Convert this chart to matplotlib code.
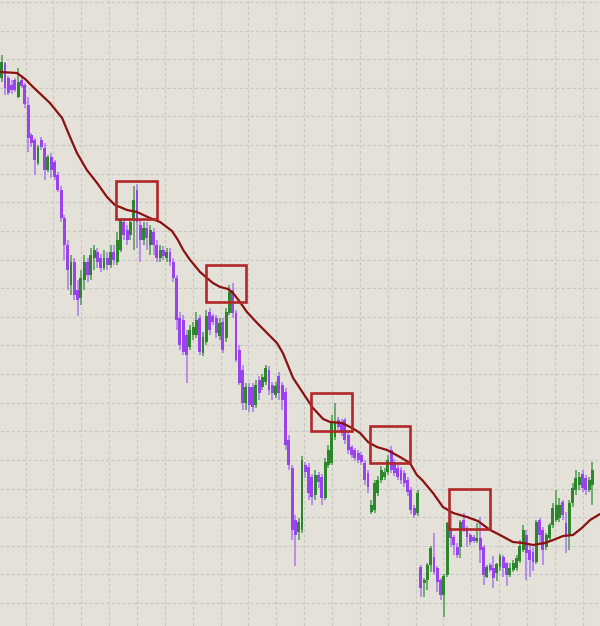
import matplotlib
matplotlib.use("Agg")
import matplotlib.pyplot as plt
from matplotlib.patches import Rectangle
import numpy as np

# ─── Data (price points, one entry per bar) ─────────────────

opens = [
    922, 937, 922, 915, 920, 903, 920, 915, 895, 865, 860, 837, 860, 852, 830, 843, 838, 825, 810, 782,
    755, 715, 738, 710, 702, 720, 738, 725, 742, 748, 742, 732, 742, 735, 748, 738,
    750, 778, 770, 765, 780, 810, 775, 760, 772, 755, 768, 755, 742, 750, 742, 748, 738,
    722, 682, 680, 665, 653, 665, 665, 682, 647, 658, 688, 684, 682, 664, 678, 662, 687, 710, 687, 650,
    630, 597, 613, 613, 595, 620, 613, 618, 630, 615, 605, 624, 615,
    608, 560, 532, 480, 468, 470, 535, 533, 523, 505, 525, 523, 502, 535, 537, 563, 580, 578, 580, 565,
    553, 550, 547, 545, 537, 527, 488, 490, 507, 520, 523, 528, 550, 538, 532, 530, 527, 520, 510, 492, 487,
    433, 417, 420, 435, 443, 432, 420, 405, 425, 472, 463, 453, 453, 480, 472, 465, 463, 459, 462, 453,
    423, 435, 432, 427, 433, 443, 437, 425, 430, 432, 439, 450, 465, 450, 448, 438, 480, 470, 453, 462,
    475, 480, 482, 498, 477, 465, 497, 510, 515, 526, 522, 510, 515,
]
highs = [
    945, 938, 924, 920, 922, 932, 924, 917, 903, 867, 862, 855, 863, 857, 845, 847, 840, 828, 814, 785,
    760, 745, 742, 720, 730, 745, 742, 752, 755, 752, 746, 750, 748, 755, 755, 768,
    782, 782, 775, 782, 814, 816, 780, 778, 778, 775, 772, 760, 755, 754, 752, 752, 742,
    725, 688, 685, 670, 675, 678, 688, 685, 668, 690, 692, 686, 685, 682, 682, 692, 715, 717, 690, 655,
    635, 617, 617, 617, 620, 624, 626, 635, 634, 618, 618, 628, 618,
    612, 565, 535, 485, 482, 544, 538, 537, 526, 530, 528, 526, 542, 555, 585, 597, 583, 581, 582, 568,
    555, 552, 550, 548, 540, 530, 500, 520, 524, 534, 532, 545, 554, 541, 535, 533, 530, 523, 513, 495, 510,
    435, 422, 437, 454, 467, 434, 422, 426, 478, 487, 465, 457, 480, 487, 474, 467, 465, 477, 483, 455,
    435, 437, 444, 437, 446, 445, 438, 437, 440, 445, 460, 475, 470, 455, 453, 480, 482, 473, 467, 477,
    497, 510, 502, 500, 488, 500, 517, 530, 528, 530, 525, 523, 538,
]
lows = [
    918, 905, 905, 906, 908, 902, 912, 892, 848, 853, 825, 835, 850, 820, 828, 822, 820, 808, 778, 740,
    710, 705, 700, 684, 695, 710, 718, 720, 730, 732, 728, 730, 730, 732, 735, 735,
    748, 760, 755, 760, 750, 752, 738, 755, 750, 745, 745, 738, 738, 740, 738, 734, 718,
    670, 650, 645, 617, 650, 660, 662, 645, 644, 655, 665, 675, 662, 660, 647, 658, 685, 682, 638, 615,
    590, 590, 588, 588, 592, 600, 610, 615, 605, 600, 602, 600, 590,
    550, 530, 460, 434, 460, 467, 522, 500, 495, 500, 512, 495, 500, 532, 535, 560, 570, 564, 556, 546,
    542, 539, 537, 535, 515, 507, 486, 487, 504, 517, 520, 525, 527, 524, 520, 516, 513, 504, 486, 482, 484,
    403, 403, 410, 428, 425, 408, 400, 383, 423, 453, 445, 442, 442, 468, 453, 455, 457, 457, 437, 415,
    422, 428, 412, 419, 429, 423, 414, 423, 428, 429, 437, 448, 420, 423, 429, 436, 457, 435, 450, 458,
    472, 478, 478, 480, 447, 450, 493, 505, 510, 508, 505, 508, 495,
]
closes = [
    938, 912, 907, 910, 910, 918, 914, 896, 862, 857, 840, 853, 853, 830, 843, 830, 823, 810, 782, 755,
    730, 738, 705, 700, 722, 738, 725, 745, 750, 738, 732, 742, 735, 748, 740, 760,
    780, 765, 760, 778, 800, 778, 760, 772, 762, 770, 755, 742, 750, 744, 748, 738, 722,
    680, 655, 648, 645, 670, 673, 680, 648, 663, 684, 670, 678, 667, 677, 650, 688, 708, 687, 640, 617,
    597, 613, 595, 593, 615, 607, 623, 632, 610, 607, 614, 607, 600,
    555, 535, 470, 465, 478, 540, 528, 507, 503, 525, 518, 502, 538, 550, 577, 578, 573, 568, 560, 550,
    545, 542, 540, 538, 520, 513, 495, 517, 520, 530, 528, 540, 530, 527, 523, 520, 517, 508, 490, 485, 507,
    412, 420, 435, 452, 428, 418, 405, 424, 477, 462, 455, 445, 478, 470, 463, 458, 459, 462, 450, 425,
    433, 430, 422, 436, 444, 432, 425, 432, 437, 442, 454, 470, 447, 440, 438, 478, 465, 450, 465, 475,
    492, 495, 495, 485, 465, 497, 512, 522, 523, 512, 510, 520, 530,
]

# moving average, read at a handful of bars
ma_bar = [
    -0.5, 4.6, 7.1, 9.5, 14.6, 18.3, 20.7, 22.8, 25.8, 28.9, 31.9, 34.3, 38.0, 41.0, 44.9, 48.0,
    51.6, 53.4, 55.0, 57.1, 60.1, 62.2, 64.0, 66.2, 68.6, 70.1, 72.2, 74.3, 77.4, 80.4, 83.4, 85.2,
    88.3, 91.3, 94.3, 97.4, 99.5, 103.1, 106.2, 108.6, 111.0, 113.7, 116.8, 120.7, 123.7, 125.8,
    127.4, 130.7, 133.7, 136.8, 141.0, 144.3, 148.0, 151.0, 154.9, 158.0, 161.0, 164.6, 167.1,
    170.1, 173.1, 175.8, 178.3, 181.3,
]
ma_value = [
    928, 927, 921, 913, 897, 882, 863, 847, 830, 817, 803, 795, 790, 788, 782, 778,
    769, 760, 750, 740, 728, 722, 717, 713, 711, 707, 698, 688, 677, 667, 657, 647,
    622, 607, 592, 581, 578, 577, 572, 567, 558, 553, 550, 543, 537, 525,
    520, 507, 493, 487, 483, 479, 470, 465, 458, 457, 455, 457, 460,
    464, 465, 472, 480, 486,
]

# highlighted touches of the average
box_left = [34.6, 61.9, 93.7, 111.6, 135.5]
box_right = [47.1, 74.0, 106.2, 123.7, 148.0]
box_low = [781, 698, 569, 537, 471]
box_high = [819, 735, 607, 574, 511]

BG = "#e3e1d8"
UP, UP_WICK = "#2c872c", "#4f9c4f"
DOWN, DOWN_WICK = "#9a42ee", "#ad78ef"
MA_COLOR = "#8b1111"
BOX_COLOR = "#b0282a"


def main():
    o = np.array(opens, float)
    h = np.array(highs, float)
    l = np.array(lows, float)
    c = np.array(closes, float)
    assert len(o) == len(h) == len(l) == len(c)
    idx = np.arange(len(o))
    up = c >= o

    fig = plt.figure(figsize=(6.0, 6.26), dpi=100, facecolor=BG)
    ax = fig.add_axes([0, 0, 1, 1], facecolor=BG)

    # wicks then bodies
    ax.vlines(idx, l, h, colors=np.where(up, UP_WICK, DOWN_WICK), linewidth=1.1, zorder=2)
    body_lo = np.minimum(o, c)
    body_h = np.maximum(np.abs(c - o), 1.5)
    ax.bar(idx, body_h, bottom=body_lo, width=0.88,
           color=np.where(up, UP, DOWN), linewidth=0, zorder=3)

    ax.plot(ma_bar, ma_value, color=MA_COLOR, linewidth=1.6, zorder=4,
            solid_joinstyle="round", solid_capstyle="round")

    for x0, x1, y0, y1 in zip(box_left, box_right, box_low, box_high):
        ax.add_patch(Rectangle((x0, y0), x1 - x0, y1 - y0, fill=False,
                               edgecolor=BOX_COLOR, linewidth=1.9, zorder=5))

    ax.set_xlim(-0.52, 181.3)
    ax.set_ylim(374, 1000)
    ax.set_xticks(np.arange(7.24, 182, 8.44))
    ax.set_yticks(np.arange(998, 370, -28.62))
    ax.tick_params(length=0, labelbottom=False, labelleft=False)
    ax.grid(True, color="#c8c8c6", linewidth=0.8, linestyle=(0, (3, 2)), zorder=0)
    ax.set_axisbelow(True)
    for sp in ax.spines.values():
        sp.set_visible(False)

    fig.savefig("out.png", dpi=100, facecolor=BG)
    plt.close(fig)


if __name__ == "__main__":
    main()
